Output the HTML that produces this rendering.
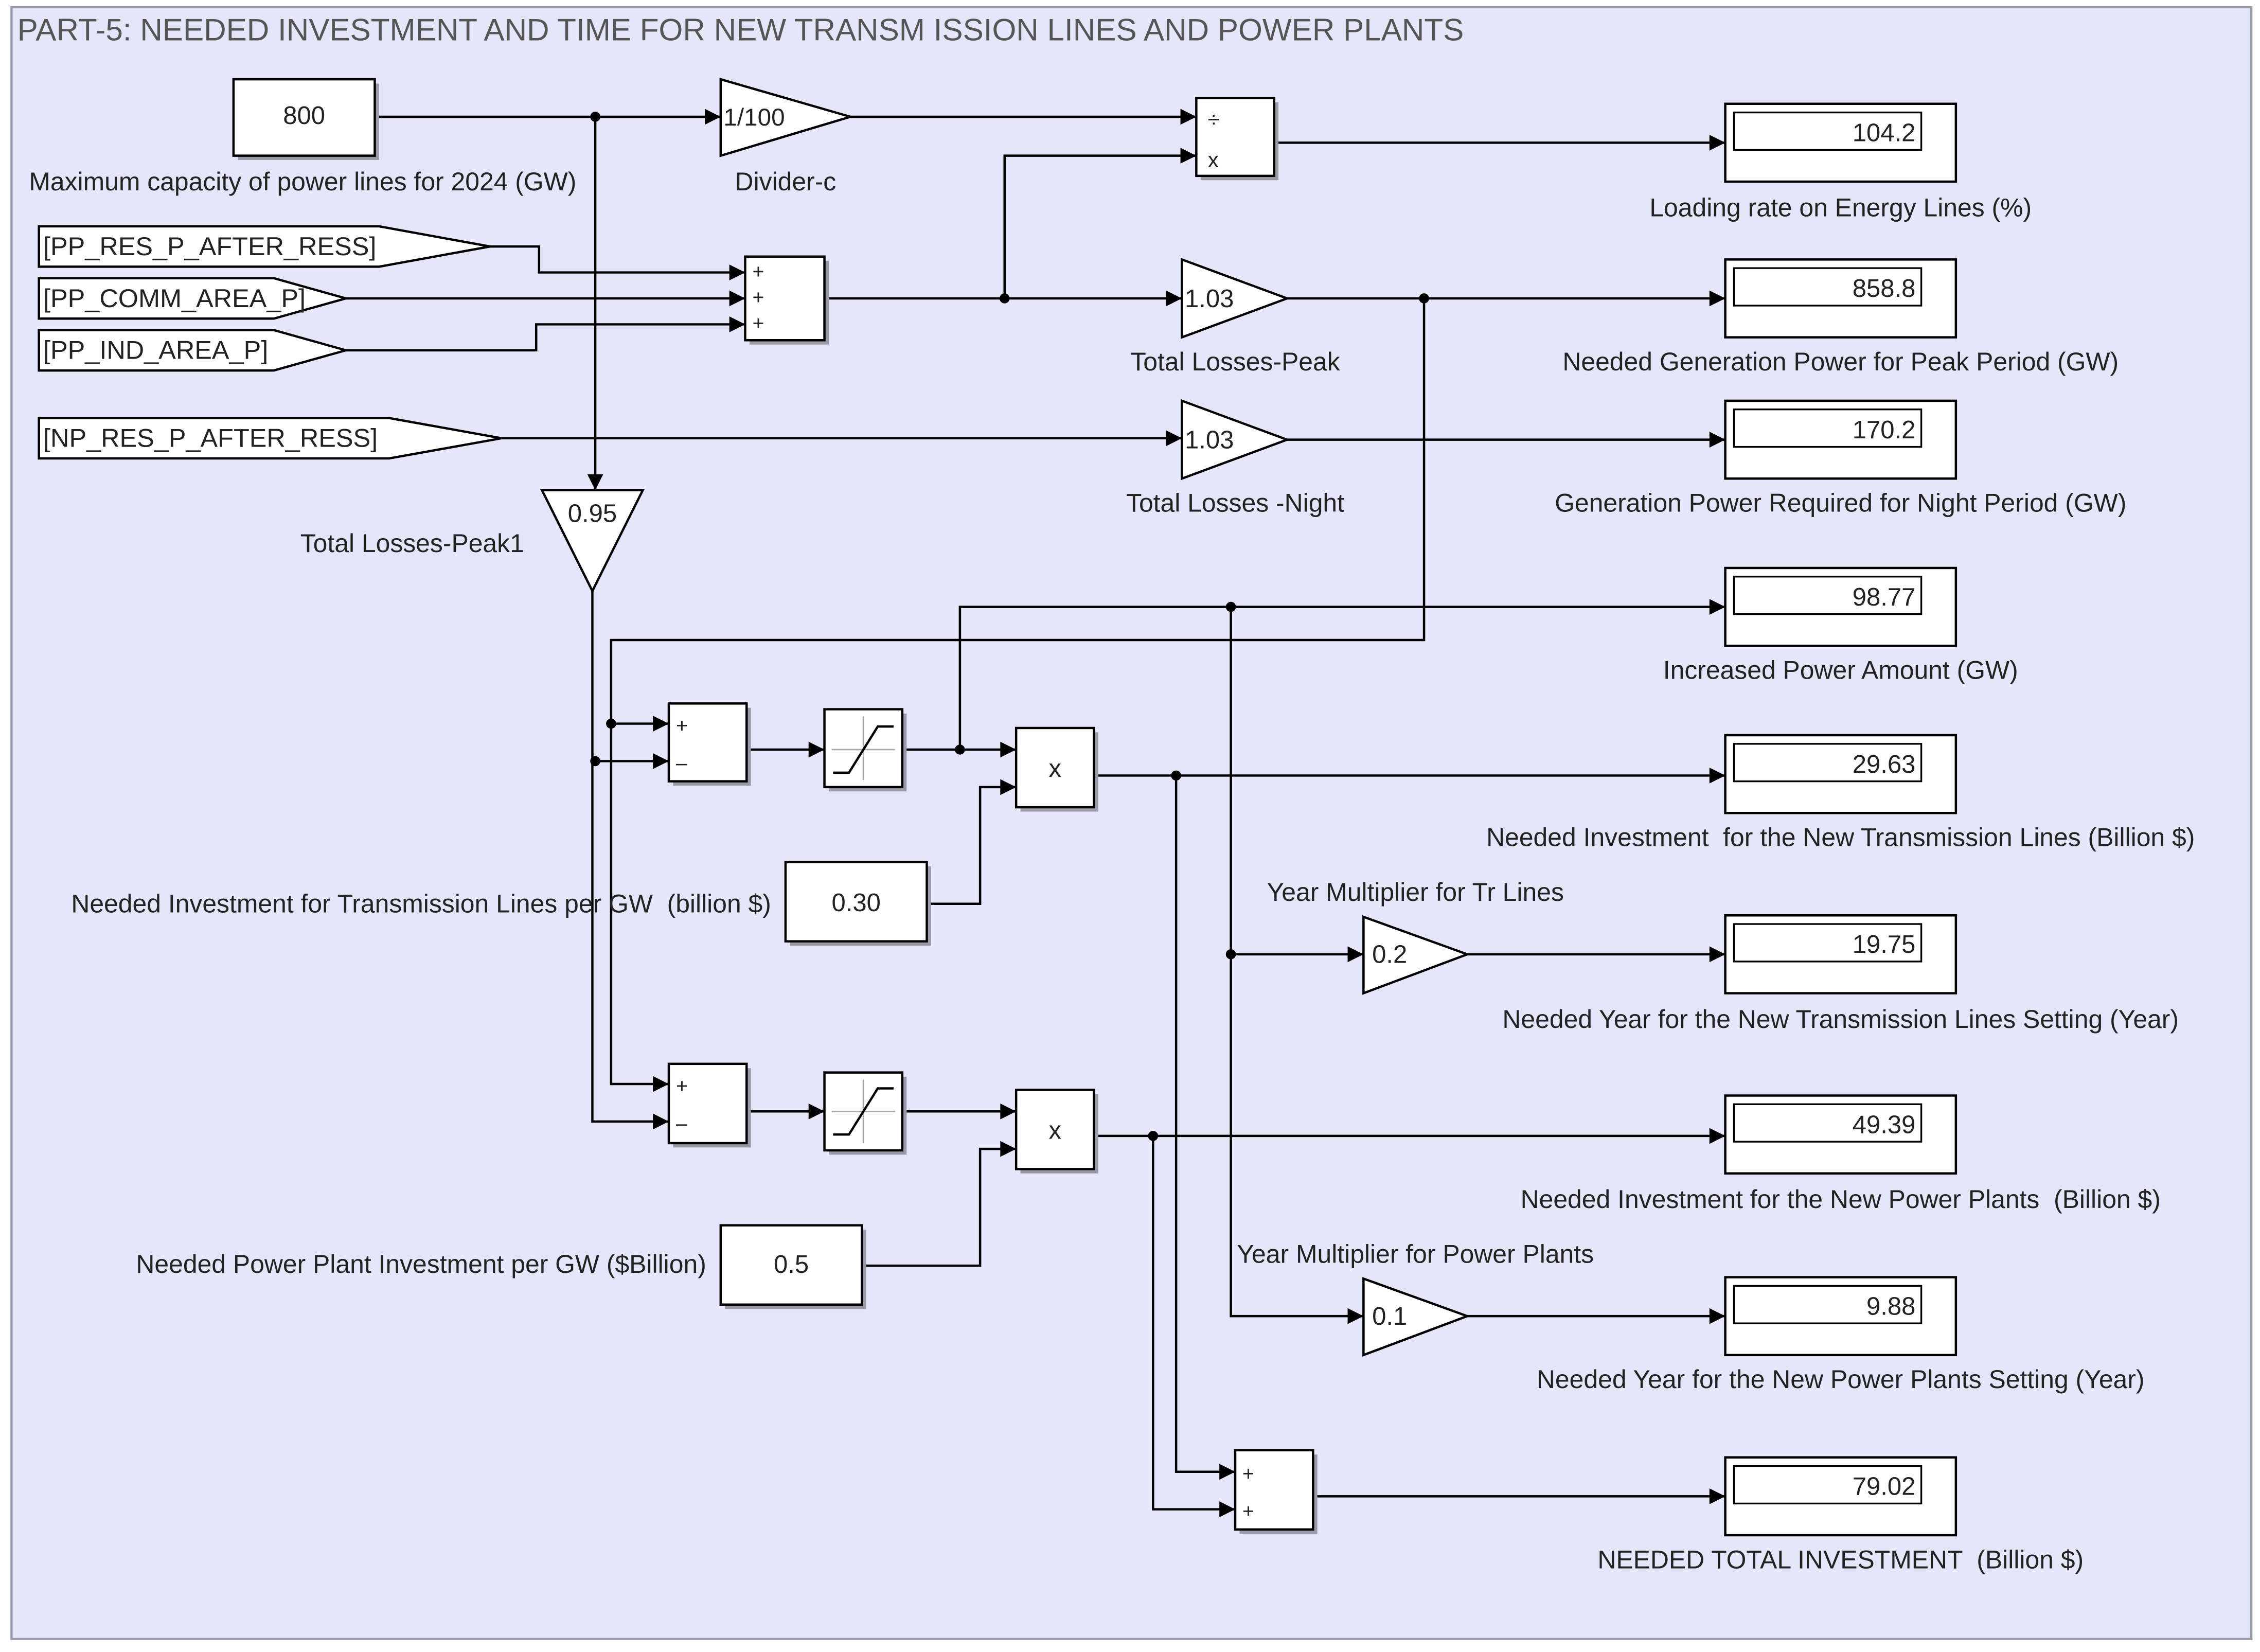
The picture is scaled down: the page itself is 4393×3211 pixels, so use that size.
<!DOCTYPE html>
<html><head><meta charset="utf-8"><style>
html,body{margin:0;padding:0;background:#fff}
svg{display:block}
text{font-family:"Liberation Sans",Arial,sans-serif;fill:#222;white-space:pre}
</style></head><body>
<svg width="4393" height="3211" viewBox="0 0 1568 1146" preserveAspectRatio="none" xmlns="http://www.w3.org/2000/svg">
<defs>
<marker id="a" viewBox="0 0 10 10" refX="10" refY="5" markerWidth="13" markerHeight="11" markerUnits="userSpaceOnUse" orient="auto">
<path d="M0,0 L10,5 L0,10 z" fill="#000"/></marker>
</defs>
<rect x="0" y="0" width="1568" height="1146" fill="#fff"/>
<rect x="8" y="5" width="1554" height="1132" fill="#e6e6fa" stroke="#9a9aa8" stroke-width="1.5"/>
<text x="12" y="28" font-size="21.5" fill="#555" style="fill:#555">PART-5: NEEDED INVESTMENT AND TIME FOR NEW TRANSM ISSION LINES AND POWER PLANTS</text>

<g fill="none" stroke="#000" stroke-width="1.6">
<path d="M260,81 H500" marker-end="url(#a)"/>
<path d="M590,81 H830" marker-end="url(#a)"/>
<path d="M884,99 H1197" marker-end="url(#a)"/>
<path d="M340,171 H374 V189 H517" marker-end="url(#a)"/>
<path d="M240,207 H517" marker-end="url(#a)"/>
<path d="M240,243 H372 V225 H517" marker-end="url(#a)"/>
<path d="M572,207 H820" marker-end="url(#a)"/>
<path d="M697,207 V108 H830" marker-end="url(#a)"/>
<path d="M893,207 H1197" marker-end="url(#a)"/>
<path d="M348,304 H820" marker-end="url(#a)"/>
<path d="M893,305 H1197" marker-end="url(#a)"/>
<path d="M413,81 V340" marker-end="url(#a)"/>
<path d="M411,410 V778 H464" marker-end="url(#a)"/>
<path d="M413,528 H464" marker-end="url(#a)"/>
<path d="M988,207 V444 H424 V752 H464" marker-end="url(#a)"/>
<path d="M424,502 H464" marker-end="url(#a)"/>
<path d="M518,520 H572" marker-end="url(#a)"/>
<path d="M626,520 H705" marker-end="url(#a)"/>
<path d="M666,520 V421 H1197" marker-end="url(#a)"/>
<path d="M854,421 V913 H946" marker-end="url(#a)"/>
<path d="M854,662 H946" marker-end="url(#a)"/>
<path d="M643,627 H680 V546 H705" marker-end="url(#a)"/>
<path d="M759,538 H1197" marker-end="url(#a)"/>
<path d="M816,538 V1021 H857" marker-end="url(#a)"/>
<path d="M1018,662 H1197" marker-end="url(#a)"/>
<path d="M518,771 H572" marker-end="url(#a)"/>
<path d="M626,771 H705" marker-end="url(#a)"/>
<path d="M598,878 H680 V797 H705" marker-end="url(#a)"/>
<path d="M759,788 H1197" marker-end="url(#a)"/>
<path d="M800,788 V1047 H857" marker-end="url(#a)"/>
<path d="M1018,913 H1197" marker-end="url(#a)"/>
<path d="M911,1038 H1197" marker-end="url(#a)"/>
</g>
<g fill="#000">
<circle cx="413" cy="81" r="3.5"/><circle cx="697" cy="207" r="3.5"/><circle cx="988" cy="207" r="3.5"/>
<circle cx="424" cy="502" r="3.5"/><circle cx="413" cy="528" r="3.5"/><circle cx="666" cy="520" r="3.5"/>
<circle cx="854" cy="421" r="3.5"/><circle cx="854" cy="662" r="3.5"/><circle cx="816" cy="538" r="3.5"/>
<circle cx="800" cy="788" r="3.5"/>
</g>

<g fill="#9a9aa6">
<rect x="165" y="58" width="98" height="53"/>
<rect x="833" y="71" width="54" height="54"/>
<rect x="520" y="181" width="55" height="58"/>
<rect x="467" y="491" width="54" height="54"/>
<rect x="575" y="495" width="54" height="54"/>
<rect x="708" y="508" width="54" height="55"/>
<rect x="548" y="601" width="98" height="55"/>
<rect x="467" y="741" width="54" height="55"/>
<rect x="575" y="747" width="54" height="54"/>
<rect x="708" y="759" width="54" height="55"/>
<rect x="503" y="853" width="98" height="55"/>
<rect x="860" y="1009" width="54" height="55"/>
</g>
<g fill="#fff" stroke="#000" stroke-width="1.6">
<rect x="162" y="55" width="98" height="53"/>
<polygon points="500,55 500,108 590,81"/>
<rect x="830" y="68" width="54" height="54"/>
<polygon points="27,157 263,157 340,171 263,185 27,185"/>
<polygon points="27,193 190,193 240,207 190,221 27,221"/>
<polygon points="27,229 190,229 240,243 190,257 27,257"/>
<polygon points="27,290 270,290 348,304 270,318 27,318"/>
<rect x="517" y="178" width="55" height="58"/>
<polygon points="820,180 820,234 893,207"/>
<polygon points="820,278 820,332 893,305"/>
<polygon points="376,340 446,340 411,410"/>
<rect x="464" y="488" width="54" height="54"/>
<rect x="572" y="492" width="54" height="54"/>
<rect x="705" y="505" width="54" height="55"/>
<rect x="545" y="598" width="98" height="55"/>
<polygon points="946,636 946,689 1018,662"/>
<rect x="464" y="738" width="54" height="55"/>
<rect x="572" y="744" width="54" height="54"/>
<rect x="705" y="756" width="54" height="55"/>
<rect x="500" y="850" width="98" height="55"/>
<polygon points="946,887 946,940 1018,913"/>
<rect x="857" y="1006" width="54" height="55"/>
</g>
<g fill="none" stroke-width="1">
<path d="M577,520 H621 M599,497 V541" stroke="#aaa"/>
<path d="M578,536 H589 L609,504 H620" stroke="#000" stroke-width="1.6"/>
<path d="M577,771 H621 M599,749 V793" stroke="#aaa"/>
<path d="M578,787 H589 L609,755 H620" stroke="#000" stroke-width="1.6"/>
</g>

<g>
<g fill="#fff" stroke="#000" stroke-width="1.6">
<rect x="1197" y="72" width="160" height="54"/><rect x="1197" y="180" width="160" height="54"/>
<rect x="1197" y="278" width="160" height="54"/><rect x="1197" y="394" width="160" height="54"/>
<rect x="1197" y="510" width="160" height="54"/><rect x="1197" y="635" width="160" height="54"/>
<rect x="1197" y="760" width="160" height="54"/><rect x="1197" y="886" width="160" height="54"/>
<rect x="1197" y="1011" width="160" height="54"/>
</g>
<g fill="#fff" stroke="#000" stroke-width="1.2">
<rect x="1203" y="78" width="130" height="26"/><rect x="1203" y="186" width="130" height="26"/>
<rect x="1203" y="284" width="130" height="26"/><rect x="1203" y="400" width="130" height="26"/>
<rect x="1203" y="516" width="130" height="26"/><rect x="1203" y="641" width="130" height="26"/>
<rect x="1203" y="766" width="130" height="26"/><rect x="1203" y="892" width="130" height="26"/>
<rect x="1203" y="1017" width="130" height="26"/>
</g>
<g font-size="17.5" text-anchor="end">
<text x="1329" y="98">104.2</text><text x="1329" y="206">858.8</text>
<text x="1329" y="304">170.2</text><text x="1329" y="420">98.77</text>
<text x="1329" y="536">29.63</text><text x="1329" y="661">19.75</text>
<text x="1329" y="786">49.39</text><text x="1329" y="912">9.88</text>
<text x="1329" y="1037">79.02</text>
</g>
</g>

<g font-size="17.5">
<text x="211" y="86" text-anchor="middle">800</text>
<text x="502" y="87" font-size="17">1/100</text>
<text x="838" y="88" font-size="15">÷</text><text x="838" y="116" font-size="15">x</text>
<text x="30" y="177" font-size="18">[PP_RES_P_AFTER_RESS]</text>
<text x="30" y="213" font-size="18">[PP_COMM_AREA_P]</text>
<text x="30" y="249" font-size="18">[PP_IND_AREA_P]</text>
<text x="30" y="310" font-size="18">[NP_RES_P_AFTER_RESS]</text>
<text x="522" y="193" font-size="14">+</text><text x="522" y="211" font-size="14">+</text><text x="522" y="229" font-size="14">+</text>
<text x="822" y="213">1.03</text>
<text x="822" y="311">1.03</text>
<text x="411" y="362" text-anchor="middle">0.95</text>
<text x="469" y="508" font-size="14">+</text><text x="469" y="534" font-size="14">–</text>
<text x="732" y="539" text-anchor="middle">x</text>
<text x="594" y="632" text-anchor="middle">0.30</text>
<text x="952" y="668">0.2</text>
<text x="469" y="758" font-size="14">+</text><text x="469" y="784" font-size="14">–</text>
<text x="732" y="790" text-anchor="middle">x</text>
<text x="549" y="883" text-anchor="middle">0.5</text>
<text x="952" y="919">0.1</text>
<text x="862" y="1027" font-size="14">+</text><text x="862" y="1053" font-size="14">+</text>
</g>

<g font-size="17.8" text-anchor="middle">
<text x="210" y="132">Maximum capacity of power lines for 2024 (GW)</text>
<text x="545" y="132">Divider-c</text>
<text x="1277" y="150">Loading rate on Energy Lines (%)</text>
<text x="857" y="257">Total Losses-Peak</text>
<text x="1277" y="257">Needed Generation Power for Peak Period (GW)</text>
<text x="857" y="355">Total Losses -Night</text>
<text x="1277" y="355">Generation Power Required for Night Period (GW)</text>
<text x="286" y="383">Total Losses-Peak1</text>
<text x="1277" y="471">Increased Power Amount (GW)</text>
<text x="1277" y="587">Needed Investment  for the New Transmission Lines (Billion $)</text>
<text x="982" y="625">Year Multiplier for Tr Lines</text>
<text x="1277" y="713">Needed Year for the New Transmission Lines Setting (Year)</text>
<text x="1277" y="838">Needed Investment for the New Power Plants  (Billion $)</text>
<text x="982" y="876">Year Multiplier for Power Plants</text>
<text x="1277" y="963">Needed Year for the New Power Plants Setting (Year)</text>
<text x="1277" y="1088">NEEDED TOTAL INVESTMENT  (Billion $)</text>
</g>
<g font-size="17.8" text-anchor="end">
<text x="535" y="633">Needed Investment for Transmission Lines per GW  (billion $)</text>
<text x="490" y="883">Needed Power Plant Investment per GW ($Billion)</text>
</g>
</svg>
</body></html>
